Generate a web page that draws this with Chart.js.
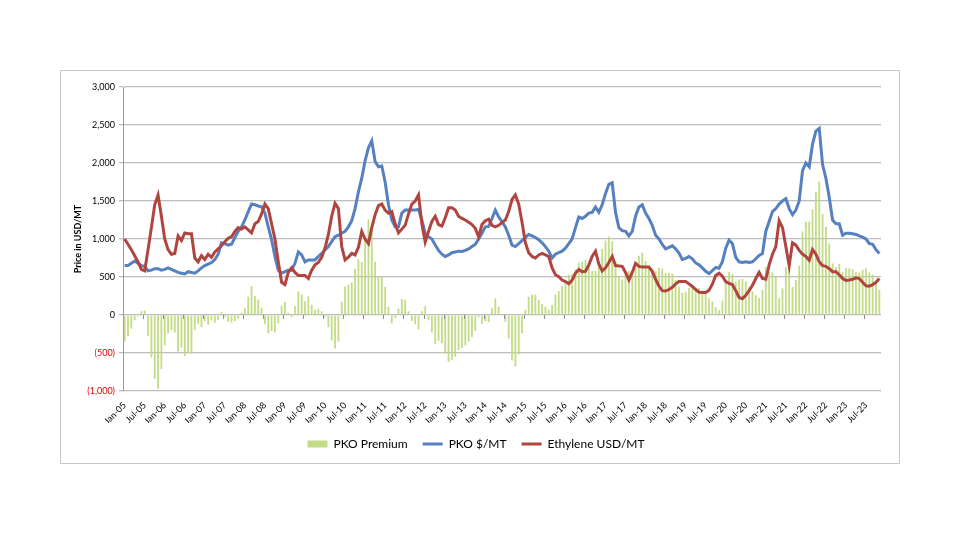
<!DOCTYPE html>
<html>
<head>
<meta charset="utf-8">
<script src="https://cdn.jsdelivr.net/npm/chart.js@4.4.1/dist/chart.umd.min.js"></script>
<style>
  body { margin: 0; background: #fff; }
  #box { position: absolute; left: 60px; top: 70px; width: 838px; height: 392px; border: 1px solid #c8c8c8; }
</style>
</head>
<body>
<div id="box"><canvas id="chart"></canvas></div>
<script>
// month labels Jan-05 .. Nov-23
const monthNames = ["Jan", "Feb", "Mar", "Apr", "May", "Jun", "Jul", "Aug", "Sep", "Oct", "Nov", "Dec"];
const years = ["05", "06", "07", "08", "09", "10", "11", "12", "13", "14", "15", "16", "17", "18", "19", "20", "21", "22", "23"];
const lastMonthCount = 11; // data runs to Nov-23

const pkoPrice = [
  650, 650, 680, 710, 680, 650, 640, 580, 590, 610, 610, 590,
  600, 620, 600, 580, 560, 550, 540, 570, 560, 550, 580, 620,
  650, 670, 690, 730, 800, 950, 940, 920, 930, 1020, 1100, 1160,
  1250, 1360, 1460, 1450, 1435, 1425, 1340, 1160, 990, 770, 590, 550,
  570, 590, 590, 680, 830, 790, 700, 725, 725, 725, 770, 810,
  855, 900, 965, 1030, 1050, 1075, 1100, 1160, 1240, 1400, 1620, 1800,
  2030, 2200, 2290, 2020, 1950, 1960, 1750, 1450, 1250, 1160, 1160, 1340,
  1380, 1380, 1380, 1380, 1390, 1250, 1075, 1030, 1000, 920, 850, 800,
  770, 790, 820, 830, 840, 835, 850, 870, 900, 930, 1000, 1075,
  1160, 1165, 1270, 1380, 1290, 1230, 1160, 1050, 920, 900, 940, 980,
  1020, 1060, 1040, 1020, 990, 950, 900, 840, 750, 800, 820, 840,
  880, 940, 1000, 1150, 1290, 1270, 1300, 1340, 1350, 1420, 1350, 1450,
  1600, 1720, 1740, 1350, 1150, 1110, 1100, 1040, 1100, 1300, 1420, 1450,
  1340, 1270, 1180, 1050, 1000, 930, 870, 890, 910, 870, 815, 730,
  745, 770, 740, 685, 660, 620, 575, 545, 585, 625, 615, 700,
  880, 985, 940, 760, 700, 690, 700, 690, 700, 740, 785, 810,
  1100, 1230, 1360, 1400, 1460, 1500, 1530, 1400, 1320, 1380, 1500, 1900,
  2000, 1950, 2250, 2420, 2456, 1980, 1800, 1550, 1250, 1200, 1200, 1050,
  1075, 1075, 1070, 1060, 1040, 1025, 1000, 940, 930, 860, 810
];

const ethylenePrice = [
  1000, 930, 860, 780, 700, 600, 580, 860, 1150, 1450, 1580, 1300,
  1000, 860, 800, 810, 1040, 980, 1080, 1070, 1070, 750, 700, 780,
  730, 800, 760, 830, 870, 910, 965, 1010, 1030, 1100, 1150, 1130,
  1160, 1120, 1080, 1200, 1230, 1330, 1460, 1400, 1200, 1000, 700, 430,
  400, 560, 620, 560, 520, 520, 520, 480, 590, 660, 690, 760,
  880, 1060, 1300, 1470, 1400, 900, 725, 760, 810, 790, 890, 1100,
  1000, 940, 1150, 1320, 1440, 1460, 1380, 1340, 1360, 1200, 1080, 1130,
  1180, 1330, 1460, 1500, 1580, 1200, 960, 1100, 1230, 1300, 1190, 1170,
  1280, 1410, 1410, 1380, 1300, 1270, 1250, 1220, 1190, 1140, 1030, 1190,
  1240, 1260, 1180, 1160, 1180, 1215, 1250, 1360, 1520, 1580, 1460, 1220,
  950, 820, 770, 750, 790, 810, 790, 770, 620, 530, 505, 460,
  440, 410, 460, 550, 600, 570, 575, 660, 770, 840, 670, 580,
  620, 690, 770, 650, 645, 640, 560, 460, 560, 680, 640, 630,
  630, 630, 575, 470, 380, 320, 315, 335, 365, 410, 440, 440,
  440, 410, 375, 335, 300, 295, 295, 325, 405, 520, 550, 510,
  440, 415, 400, 320, 230, 215, 260, 320, 390, 480, 560, 480,
  470, 660, 800, 900, 1240, 1150, 900, 650, 950, 920, 850, 800,
  770, 720, 860, 800, 700, 650, 640, 610, 570, 570, 530, 480,
  455, 460, 470, 490, 480, 430, 385, 380, 400, 430, 480
];

const pkoPremium = [
  -350, -280, -180, -70, -20, 50, 60, -280, -560, -840, -970, -710,
  -400, -240, -200, -230, -480, -430, -540, -500, -510, -200, -120, -160,
  -80, -130, -70, -100, -70, 40, -25, -90, -100, -80, -50, 30,
  90, 240, 380, 250, 205, 95, -120, -240, -210, -230, -110, 120,
  170, 30, -30, 120, 310, 270, 180, 245, 135, 65, 80, 50,
  -25, -160, -335, -440, -350, 175, 375, 400, 430, 610, 730, 700,
  1030, 1260, 1140, 700, 510, 500, 370, 110, -110, -40, 80, 210,
  200, 50, -80, -120, -190, 50, 115, -70, -230, -380, -340, -370,
  -510, -620, -590, -550, -460, -435, -400, -350, -290, -210, -30, -115,
  -80, -95, 90, 220, 110, 15, -90, -310, -600, -680, -520, -240,
  70, 240, 270, 270, 200, 140, 110, 70, 130, 270, 315, 380,
  440, 530, 540, 600, 690, 700, 725, 680, 580, 580, 680, 870,
  980, 1030, 970, 700, 505, 470, 540, 580, 540, 620, 780, 820,
  710, 640, 605, 580, 620, 610, 555, 555, 545, 460, 375, 290,
  305, 360, 365, 350, 360, 325, 280, 220, 180, 105, 65, 190,
  440, 570, 540, 440, 470, 475, 440, 370, 310, 260, 225, 330,
  630, 570, 560, 500, 220, 350, 630, 750, 370, 460, 650, 1100,
  1230, 1230, 1390, 1620, 1756, 1330, 1160, 940, 680, 630, 670, 570,
  620, 615, 600, 570, 560, 595, 615, 560, 530, 430, 330
];

const yTicks = { min: -1000, max: 3000, step: 500 };

const labels = [];
years.forEach((yr, yi) => {
  const count = yi === years.length - 1 ? lastMonthCount : 12;
  for (let m = 0; m < count; m++) {
    labels.push(monthNames[m] + "-" + yr);
  }
});

const fontFamily = "Lato, 'Liberation Sans', sans-serif";

// small tick marks on the zero line every 6 months
const zeroTicks = {
  id: "zeroTicks",
  afterDatasetsDraw(chart) {
    const x = chart.scales.x;
    const y = chart.scales.y;
    const ctx = chart.ctx;
    const y0 = y.getPixelForValue(0);
    const half = (x.getPixelForValue(1) - x.getPixelForValue(0)) / 2;
    ctx.save();
    ctx.strokeStyle = "#8c8c8c";
    ctx.lineWidth = 1;
    for (let i = 6; i < labels.length; i += 6) {
      const px = Math.round(x.getPixelForValue(i) - half) + 0.5;
      ctx.beginPath();
      ctx.moveTo(px, y0);
      ctx.lineTo(px, y0 + 4);
      ctx.stroke();
    }
    ctx.restore();
  }
};

const ctx = document.getElementById("chart").getContext("2d");
const chart = new Chart(ctx, {
  type: "bar",
  data: {
    labels: labels,
    datasets: [
      {
        type: "bar",
        label: "PKO Premium",
        data: pkoPremium,
        backgroundColor: "rgba(188, 216, 122, 0.9)",
        borderWidth: 0,
        barPercentage: 0.55,
        categoryPercentage: 1.0,
        pointStyle: "rect",
        order: 3
      },
      {
        type: "line",
        label: "PKO $/MT",
        data: pkoPrice,
        borderColor: "#5680c0",
        backgroundColor: "#5680c0",
        borderWidth: 3,
        pointRadius: 0,
        pointStyle: "line",
        tension: 0,
        order: 2
      },
      {
        type: "line",
        label: "Ethylene USD/MT",
        data: ethylenePrice,
        borderColor: "#b0443f",
        backgroundColor: "#b0443f",
        borderWidth: 3,
        pointRadius: 0,
        pointStyle: "line",
        tension: 0,
        order: 1
      }
    ]
  },
  options: {
    responsive: true,
    maintainAspectRatio: false,
    animation: false,
    layout: { padding: { top: 16, right: 18, left: 10, bottom: 3 } },
    plugins: {
      tooltip: { enabled: false },
      legend: {
        position: "bottom",
        labels: {
          usePointStyle: true,
          pointStyleWidth: 20,
          boxHeight: 7,
          padding: 15,
          color: "#000",
          font: { family: fontFamily, size: 12 },
          sort: (a, b) => a.datasetIndex - b.datasetIndex
        }
      }
    },
    scales: {
      x: {
        grid: { display: false },
        border: { display: false },
        ticks: {
          autoSkip: false,
          maxRotation: 45,
          minRotation: 45,
          padding: 1,
          color: "#000",
          font: { family: fontFamily, size: 9 },
          callback: function (val, idx) {
            return idx % 6 === 0 ? this.getLabelForValue(val) : "";
          }
        },
        afterFit: (scale) => { scale.height = 32; }
      },
      y: {
        min: yTicks.min,
        max: yTicks.max,
        grid: { color: "#bdbdbd", lineWidth: 1.3, tickLength: 4 },
        border: { display: true, color: "#9a9a9a" },
        ticks: {
          stepSize: yTicks.step,
          padding: 4,
          font: { family: fontFamily, size: 9 },
          color: (c) => (c.tick && c.tick.value < 0 ? "#e00000" : "#000"),
          callback: (v) => (v < 0 ? "(" + Math.abs(v).toLocaleString("en-US") + ")" : v.toLocaleString("en-US"))
        },
        title: {
          display: true,
          text: "Price in USD/MT",
          color: "#000",
          font: { family: fontFamily, size: 9, weight: "bold" },
          padding: { top: 2, bottom: 2 }
        },
        afterFit: (scale) => { scale.width = 52; }
      }
    }
  },
  plugins: [zeroTicks]
});
</script>
</body>
</html>
